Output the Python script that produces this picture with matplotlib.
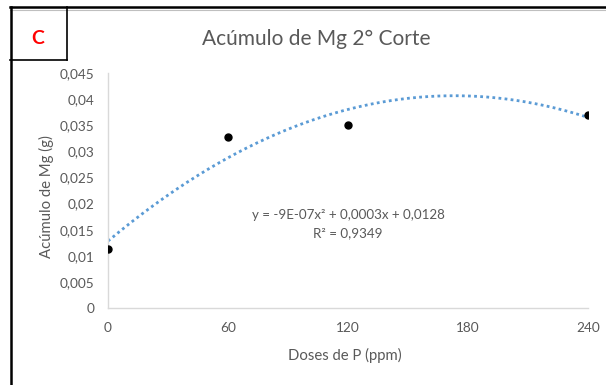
import numpy as np
import matplotlib
matplotlib.use("Agg")
import matplotlib.pyplot as plt
from matplotlib.lines import Line2D

# Data
doses = [0, 60, 120, 240]
mg = [0.0113, 0.0328, 0.0350, 0.0370]
x_ticks = [0, 60, 120, 180, 240]
x_ticklabels = ["0", "60", "120", "180", "240"]
y_ticks = [0, 0.005, 0.01, 0.015, 0.02, 0.025, 0.03, 0.035, 0.04, 0.045]
y_ticklabels = ["0", "0,005", "0,01", "0,015", "0,02", "0,025", "0,03", "0,035", "0,04", "0,045"]
title = "Acúmulo de Mg 2° Corte"
eq_line1 = "y = -9E-07x² + 0,0003x + 0,0128"
eq_line2 = "R² = 0,9349"

plt.rcParams['font.family'] = ['Lato', 'DejaVu Sans']
gray = "#595959"
W, H = 606, 385
fig = plt.figure(figsize=(W/100, H/100), dpi=100)
ax = fig.add_axes([108/W, 1-308/H, (588-108)/W, (308-73)/H])

# trendline from polynomial fit
coef = np.polyfit(doses, mg, 2)
xs = np.linspace(0, 240, 300)
ax.plot(xs, np.polyval(coef, xs), linestyle=(0, (1, 1.2)), color="#5B9BD5", lw=2.0, zorder=2)
ax.plot(doses, mg, 'o', color='black', markersize=5.0, zorder=3)

ax.set_xlim(0, 240)
ax.set_ylim(0, 0.045)
ax.set_xticks(x_ticks)
ax.set_xticklabels(x_ticklabels)
ax.set_yticks(y_ticks)
ax.set_yticklabels(y_ticklabels)
ax.tick_params(length=0, labelsize=9.8, colors=gray)
ax.tick_params(axis='y', pad=10)
ax.tick_params(axis='x', pad=10)
for s in ['top', 'right']:
    ax.spines[s].set_visible(False)
for s in ['left', 'bottom']:
    ax.spines[s].set_color("#d9d9d9")
    ax.spines[s].set_linewidth(1.0)

fig.text(316/W, 1-39/H, title, ha='center', va='center', fontsize=15, color=gray)
fig.text(345/W, 1-355/H, "Doses de P (ppm)", ha='center', va='center', fontsize=10.7, color=gray)
fig.text(46/W, 1-197/H, "Acúmulo de Mg (g)", ha='center', va='center', rotation=90, fontsize=10.7, color=gray)
fig.text(348/W, 1-215/H, eq_line1, ha='center', va='center', fontsize=9.6, color=gray)
fig.text(348/W, 1-233/H, eq_line2, ha='center', va='center', fontsize=9.6, color=gray)

fig.text(38/W, 1-38/H, "C", ha='center', va='center', fontsize=14, color='red', fontweight='bold')

def fl(x0, y0, x1, y1, lw=1.5, c='black'):
    fig.add_artist(Line2D([x0/W, x1/W], [1-y0/H, 1-y1/H], color=c, lw=lw, transform=fig.transFigure))

fl(10, 7, 606, 7, lw=1.8)
fl(10, 9.5, 606, 9.5, lw=0.8, c="#bfbfbf")
fl(11, 7, 11, 385, lw=1.8)
fl(67, 7, 67, 60, lw=1.2)
fl(10, 60, 67, 60, lw=1.2)

fig.savefig("out.png", dpi=100)
